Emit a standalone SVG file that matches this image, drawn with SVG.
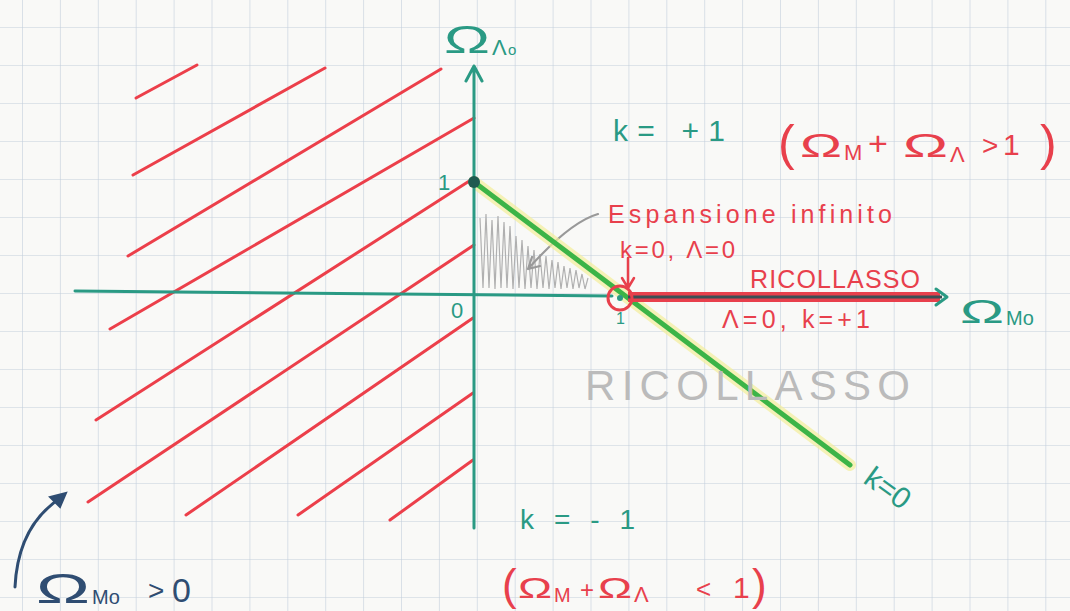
<svg xmlns="http://www.w3.org/2000/svg" width="1070" height="611" viewBox="0 0 1070 611">
<defs>
<pattern id="grid" x="22" y="27" width="37.9" height="38" patternUnits="userSpaceOnUse">
<path d="M0,0 V38 M0,0 H37.9" fill="none" stroke="#c3cfdc" stroke-width="1.2"/>
</pattern>
<style>
.teal{fill:#2a9a84;font-family:"Liberation Sans",Arial,sans-serif}
.red{fill:#e8404c;font-family:"Liberation Sans",Arial,sans-serif}
.blue{fill:#2f4d72;font-family:"Liberation Sans",Arial,sans-serif}
.gray{fill:#bbbbbb;font-family:"Liberation Sans",Arial,sans-serif}
.hatch line{stroke:#ec3f4a;stroke-width:3;stroke-linecap:round}
.ax{stroke:#2a9a84;stroke-width:3;fill:none;stroke-linecap:round;stroke-linejoin:round}
</style>
</defs>
<rect width="1070" height="611" fill="#f9f9f7"/>
<rect width="1070" height="611" fill="url(#grid)"/>

<g id="hatching" class="hatch">
<line x1="136" y1="98" x2="197" y2="65"/>
<line x1="133" y1="175" x2="325" y2="68"/>
<line x1="128" y1="256" x2="441" y2="69"/>
<line x1="110" y1="329" x2="474" y2="118"/>
<line x1="96" y1="420" x2="474" y2="178"/>
<line x1="88" y1="502" x2="474" y2="245"/>
<line x1="186" y1="515" x2="473" y2="318"/>
<line x1="298" y1="515" x2="473" y2="393"/>
<line x1="390" y1="520" x2="473" y2="460"/>
</g>

<g id="shaded-region">
<path d="M480,218 L483,288 L486,214 L489,288 L492,220 L495,289 L498,216 L501,288 L504,222 L507,288 L510,226 L513,289 L516,236 L519,288 L522,240 L525,289 L528,246 L531,288 L534,250 L537,289 L540,254 L543,288 L546,256 L549,289 L552,260 L555,288 L558,262 L561,289 L564,266 L567,288 L570,268 L573,289 L576,270 L579,288 L582,274 L585,289 L588,278" fill="none" stroke="#b0b0b0" stroke-width="1.2"/>
<path d="M598,214 Q570,222 528,269 M528,269 L532,257 M528,269 L540,266" fill="none" stroke="#999" stroke-width="2.2" stroke-linecap="round"/>
</g>

<g id="connectors">
<line x1="474" y1="182" x2="850" y2="465" stroke="#f3ee9a" stroke-width="12" stroke-opacity="0.7" stroke-linecap="round"/>
<line x1="474" y1="182" x2="850" y2="465" stroke="#3cb447" stroke-width="5" stroke-linecap="round"/>
<path class="ax" d="M474,528 V66 M466,81 L474,66 L482,81"/>
<path class="ax" d="M75,291 L612,296"/>
<line x1="628" y1="297" x2="940" y2="297" stroke="#e8404c" stroke-width="10"/>
<line x1="628" y1="297" x2="942" y2="297" stroke="#3b4f55" stroke-width="3"/>
<path class="ax" d="M936,289 L947,297 L936,305"/>
<path d="M628,258 V287 M622,278 L628,288 L634,278" fill="none" stroke="#e8404c" stroke-width="2.5" stroke-linecap="round"/>
<path d="M15,587 Q18,525 62,497" fill="none" stroke="#2f4d72" stroke-width="3" stroke-linecap="round"/>
<path d="M66,493 L50,497 L60,507 Z" fill="#2f4d72" stroke="#2f4d72" stroke-width="2"/>
</g>

<g id="point-1">
<circle cx="474" cy="182" r="6" fill="#1e5a50"/>
</g>
<g id="point-circle">
<circle cx="620" cy="298" r="12" fill="none" stroke="#e8404c" stroke-width="3"/>
<circle cx="620" cy="298" r="3" fill="#2a9a84"/>
<text x="616" y="324" class="teal" font-size="16">1</text>
</g>

<g id="axis-labels">
<text x="444" y="53" class="teal" font-size="38" textLength="46" lengthAdjust="spacingAndGlyphs">Ω</text>
<text x="492" y="55" class="teal" font-size="22">Λ</text>
<text x="508" y="55" class="teal" font-size="15">o</text>
<text x="438" y="190" class="teal" font-size="22">1</text>
<text x="451" y="318" class="teal" font-size="22">0</text>
<text x="960" y="323" class="teal" font-size="34" textLength="44" lengthAdjust="spacingAndGlyphs">Ω</text>
<text x="1006" y="325" class="teal" font-size="20">Mo</text>
</g>

<g id="label-k-plus">
<text x="613" y="141" class="teal" font-size="30" textLength="112">k= +1</text>
</g>
<g id="label-sum-gt">
<text x="778" y="160" class="red" font-size="50">(</text>
<text x="800" y="157" class="red" font-size="34" textLength="42" lengthAdjust="spacingAndGlyphs">Ω</text>
<text x="844" y="160" class="red" font-size="22">M</text>
<text x="868" y="155" class="red" font-size="34">+</text>
<text x="903" y="157" class="red" font-size="34" textLength="45" lengthAdjust="spacingAndGlyphs">Ω</text>
<text x="950" y="162" class="red" font-size="22">Λ</text>
<text x="982" y="155" class="red" font-size="28">&gt;</text>
<text x="1003" y="155" class="red" font-size="30">1</text>
<text x="1040" y="160" class="red" font-size="50">)</text>
</g>

<g id="label-espansione">
<text x="608" y="223" class="red" font-size="25" textLength="284">Espansione infinito</text>
<text x="620" y="258" class="red" font-size="24" textLength="115">k=0, Λ=0</text>
</g>
<g id="label-ricollasso">
<text x="750" y="288" class="red" font-size="25" textLength="170">RICOLLASSO</text>
<text x="722" y="328" class="red" font-size="25" textLength="148">Λ=0, k=+1</text>
</g>
<g id="label-ricollasso-gray">
<text x="585" y="400" class="gray" font-size="42" textLength="325">RICOLLASSO</text>
</g>
<g id="label-k0">
<text x="0" y="0" class="teal" font-size="30" transform="translate(862,482) rotate(36)">k=0</text>
</g>
<g id="label-k-minus">
<text x="520" y="529" class="teal" font-size="28" textLength="115">k = - 1</text>
</g>
<g id="label-sum-lt">
<text x="502" y="600" class="red" font-size="44">(</text>
<text x="518" y="598" class="red" font-size="30" textLength="34" lengthAdjust="spacingAndGlyphs">Ω</text>
<text x="554" y="602" class="red" font-size="20">M</text>
<text x="580" y="598" class="red" font-size="24">+</text>
<text x="598" y="598" class="red" font-size="30" textLength="34" lengthAdjust="spacingAndGlyphs">Ω</text>
<text x="634" y="602" class="red" font-size="22">Λ</text>
<text x="696" y="598" class="red" font-size="26">&lt;</text>
<text x="733" y="598" class="red" font-size="30">1</text>
<text x="752" y="600" class="red" font-size="44">)</text>
</g>
<g id="label-omega-m">
<text x="36" y="603" class="blue" font-size="42" textLength="54" lengthAdjust="spacingAndGlyphs">Ω</text>
<text x="92" y="604" class="blue" font-size="20">Mo</text>
<text x="148" y="600" class="blue" font-size="28">&gt;</text>
<text x="172" y="602" class="blue" font-size="34">0</text>
</g>
</svg>
